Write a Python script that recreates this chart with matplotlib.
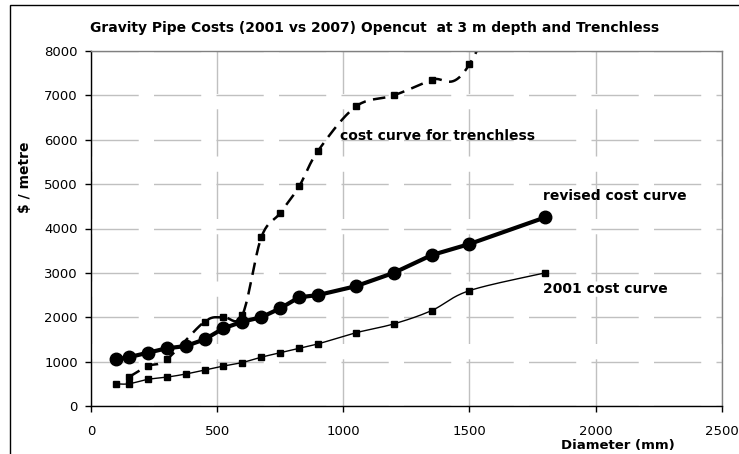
import numpy as np
import matplotlib
matplotlib.use("Agg")
import matplotlib.pyplot as plt
from matplotlib.patches import Rectangle

plt.rcParams['font.family'] = ['DejaVu Sans']

# data
dia_2001 = [100, 150, 225, 300, 375, 450, 525, 600, 675, 750, 825, 900, 1050, 1200, 1350, 1500, 1800]
cost_2001 = [500, 500, 600, 650, 720, 810, 900, 980, 1100, 1200, 1300, 1400, 1650, 1850, 2150, 2600, 3000]

dia_rev = [100, 150, 225, 300, 375, 450, 525, 600, 675, 750, 825, 900, 1050, 1200, 1350, 1500, 1800]
cost_rev = [1050, 1100, 1200, 1300, 1350, 1500, 1750, 1900, 2000, 2200, 2450, 2500, 2700, 3000, 3400, 3650, 4250]

dia_tr = [150, 225, 300, 450, 525, 600, 675, 750, 825, 900, 1050, 1200, 1350, 1500, 1800]
cost_tr = [650, 900, 1050, 1900, 2000, 2050, 3800, 4350, 4950, 5750, 6750, 7000, 7350, 7700, 11500]

XMAX, YMAX = 2500, 8000


def smooth(xs, ys, n=20):
    # catmull-rom through the points, in screen-ish units (like a smoothed Excel line)
    sx, sy = 631.0 / XMAX, 357.0 / YMAX
    p = np.column_stack([np.asarray(xs) * sx, np.asarray(ys) * sy])
    p = np.vstack([p[0], p, p[-1]])
    out = []
    t = np.linspace(0, 1, n, endpoint=False)[:, None]
    for i in range(1, len(p) - 2):
        p0, p1, p2, p3 = p[i - 1], p[i], p[i + 1], p[i + 2]
        seg = 0.5 * ((2 * p1) + (-p0 + p2) * t + (2 * p0 - 5 * p1 + 4 * p2 - p3) * t ** 2
                     + (-p0 + 3 * p1 - 3 * p2 + p3) * t ** 3)
        out.append(seg)
    out.append(p[-2][None, :])
    out = np.vstack(out)
    return out[:, 0] / sx, out[:, 1] / sy


fig = plt.figure(figsize=(7.39, 4.54), dpi=100)
ax = fig.add_axes([91 / 739, 1 - 406 / 454, (721.7 - 91) / 739, (406 - 51) / 454])

# outer chart frame
fig.patches.append(Rectangle((10 / 739, -0.2), 1.2, 1 - 5 / 454 + 0.2, transform=fig.transFigure,
                             fill=False, edgecolor='black', linewidth=1.0))

ax.set_xlim(0, XMAX)
ax.set_ylim(0, YMAX)
ax.set_xticks(np.arange(0, 2501, 500))
ax.set_yticks(np.arange(0, 8001, 1000))
ax.grid(True, color='#c0c0c0', linewidth=1.0, dashes=(34, 11))
ax.set_axisbelow(True)

for s in ['top', 'right']:
    ax.spines[s].set_color('#808080')
    ax.spines[s].set_linewidth(1.0)
for s in ['left', 'bottom']:
    ax.spines[s].set_color('black')
    ax.spines[s].set_linewidth(1.0)

ax.tick_params(axis='both', direction='out', length=4.5, width=1, labelsize=9.5, colors='black')
ax.tick_params(axis='x', pad=9)
ax.tick_params(axis='y', pad=5)

# 2001
xs, ys = smooth(dia_2001, cost_2001)
ax.plot(xs, ys, color='black', linewidth=1.0)
ax.plot(dia_2001, cost_2001, linestyle='none', marker='s', markersize=4.5, color='black')

# revised
ax.plot(dia_rev, cost_rev, color='black', linewidth=3.0, marker='o', markersize=9)

# trenchless
xs, ys = smooth(dia_tr, cost_tr)
ax.plot(xs, ys, color='black', linewidth=1.8, dashes=(5, 3))
ax.plot(dia_tr, cost_tr, linestyle='none', marker='s', markersize=4.5, color='black')

ax.text(986, 6093, 'cost curve for trenchless', fontsize=10, fontweight='bold', va='center')
ax.text(1790, 4727, 'revised cost curve', fontsize=10, fontweight='bold', va='center')
ax.text(1790, 2643, '2001 cost curve', fontsize=10, fontweight='bold', va='center')

fig.text(375 / 739, 1 - 28 / 454, 'Gravity Pipe Costs (2001 vs 2007) Opencut  at 3 m depth and Trenchless',
         fontsize=10, fontweight='bold', ha='center', va='center')
fig.text(618 / 739, 1 - 445 / 454, 'Diameter (mm)', fontsize=9.5, fontweight='bold', ha='center', va='center')
fig.text(25 / 739, 1 - 177 / 454, '$ / metre', fontsize=10, fontweight='bold', ha='center', va='center',
         rotation=90)

fig.savefig('out.png', dpi=100)
